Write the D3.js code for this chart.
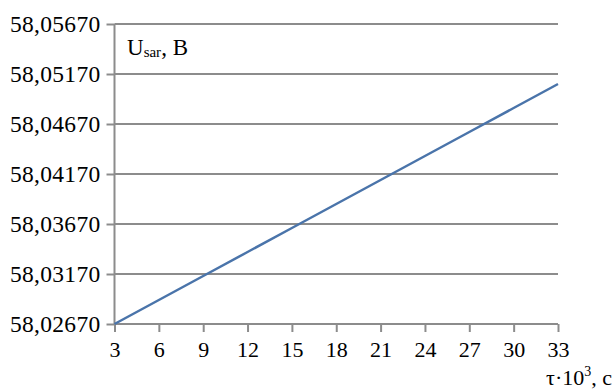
<!DOCTYPE html>
<html>
<head>
<meta charset="utf-8">
<script src="https://cdn.jsdelivr.net/npm/d3@7"></script>
<style>
  body { margin: 0; background: #fff; }
  svg text { font-family: "Liberation Serif", "Times New Roman", serif !important; }
</style>
</head>
<body>
<div id="canvas"></div>
<script>
const tau = [3, 6, 9, 12, 15, 18, 21, 24, 27, 30, 33];
const usar = [58.0267, 58.0291, 58.0315, 58.0339, 58.0363, 58.0387, 58.0411, 58.0435, 58.0459, 58.0483, 58.0507];
const xTicks = [3, 6, 9, 12, 15, 18, 21, 24, 27, 30, 33];
const yTicks = [58.0267, 58.0317, 58.0367, 58.0417, 58.0467, 58.0517, 58.0567];

const margin = { top: 24, right: 57, bottom: 66, left: 114.5 },
    width = 615 - margin.left - margin.right,
    height = 390 - margin.top - margin.bottom;

const svg = d3.select("#canvas")
    .append("svg")
    .attr("width", 615)
    .attr("height", 390)
    .append("g")
    .attr("transform", `translate(${margin.left},${margin.top})`);

const x = d3.scaleLinear().domain([3, 33]).range([0, width]);
const y = d3.scaleLinear().domain([58.0267, 58.0567]).range([height, 0]);

const grey = "#8c8c8c";

// grid lines
svg.append("g")
    .selectAll("line")
    .data(yTicks.slice(1))
    .join("line")
    .attr("x1", 0).attr("x2", width)
    .attr("y1", d => y(d)).attr("y2", d => y(d))
    .attr("stroke", grey)
    .attr("stroke-width", 2);

// Y axis
const yAxis = svg.append("g")
    .call(d3.axisLeft(y).tickValues(yTicks).tickSize(8).tickPadding(6)
        .tickFormat(d => d3.format(".5f")(d).replace(".", ",")));
yAxis.select(".domain").attr("stroke", grey).attr("stroke-width", 2).attr("d", `M0,${height}V0`);
yAxis.selectAll(".tick line").attr("stroke", grey).attr("stroke-width", 2);
yAxis.selectAll(".tick text").attr("font-size", 23.5).attr("letter-spacing", 0.3)
    .attr("fill", "#000").attr("dy", "0.33em");

// X axis
const xAxis = svg.append("g")
    .attr("transform", `translate(0,${height})`)
    .call(d3.axisBottom(x).tickValues(xTicks).tickSize(8).tickPadding(9));
xAxis.select(".domain").attr("stroke", grey).attr("stroke-width", 2).attr("d", `M0,0H${width}`);
xAxis.selectAll(".tick line").attr("stroke", grey).attr("stroke-width", 2);
xAxis.selectAll(".tick text").attr("font-size", 22).attr("fill", "#000");

// Line
svg.append("path")
    .datum(tau.map((t, i) => [t, usar[i]]))
    .attr("fill", "none")
    .attr("stroke", "#4a74aa")
    .attr("stroke-width", 2.5)
    .attr("d", d3.line().x(d => x(d[0])).y(d => y(d[1])));

// Axis titles
const yt = svg.append("text")
    .attr("x", 12.5)
    .attr("y", 31)
    .attr("font-size", 23);
yt.append("tspan").text("U");
yt.append("tspan").text("sar").attr("font-size", 15).attr("dy", 2);
yt.append("tspan").text(", B").attr("dy", -2);

const xt = svg.append("text")
    .attr("x", width + margin.right - 3)
    .attr("y", height + 61)
    .attr("text-anchor", "end")
    .attr("font-size", 22);
xt.append("tspan").text("τ·10");
xt.append("tspan").text("3").attr("font-size", 14).attr("dy", -9);
xt.append("tspan").text(", c").attr("dy", 9);
</script>
</body>
</html>
